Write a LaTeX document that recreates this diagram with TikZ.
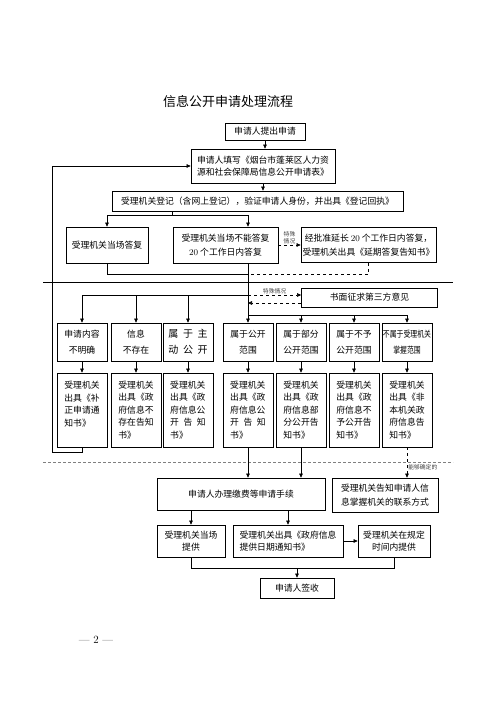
\documentclass[tikz,border=0pt]{standalone}
\usepackage{fontspec}
\newfontfamily\cjk{Noto Sans CJK SC}
\usetikzlibrary{arrows.meta,positioning}
\newcommand\gsp{\hspace{4.6pt}}
\newcommand\squeeze[1]{\scalebox{0.78}[1]{#1}}

\begin{document}
\begin{tikzpicture}[
  x=1pt, y=-1pt,
  font=\cjk\fontsize{8.8}{12}\selectfont,
  box/.style={draw, line width=0.75pt, inner sep=0pt, align=center},
  cat/.style={box, minimum width=50pt, minimum height=38pt, font=\cjk\fontsize{8.8}{16}\selectfont},
  issue/.style={box, minimum width=50pt, minimum height=74pt, align=left, font=\cjk\fontsize{8.8}{12.5}\selectfont},
  note/.style={font=\cjk\fontsize{5.8}{6.8}\selectfont, text=black!75, inner sep=1pt, align=center},
  line/.style={line width=0.6pt},
  arr/.style={-{Triangle[length=4pt,width=3.6pt]}, line width=0.6pt},
  dashedarr/.style={arr, dashed}
]
  \useasboundingbox (0,0) rectangle (500,707);

  \node[font=\cjk\fontsize{13}{15}\selectfont] at (228,102) (title) {信息公开申请处理流程};

  % application and registration
  \node[box, minimum width=80pt, minimum height=17pt] at (265,131.5) (apply) {申请人提出申请};
  \node[box, minimum width=144pt, minimum height=34pt] at (263,166) (fill) {申请人填写《烟台市蓬莱区人力资\\源和社会保障局信息公开申请表》};
  \node[box, minimum width=291pt, minimum height=20pt] at (257.5,201) (reg) {受理机关登记（含网上登记），验证申请人身份，并出具《登记回执》};

  \node[box, minimum width=82pt, minimum height=36pt] at (107,245) (onsite) {受理机关当场答复};
  \node[box, minimum width=105pt, minimum height=36pt, font=\cjk\fontsize{8.8}{14}\selectfont] at (225.5,245) (notnow) {受理机关当场不能答复\\\textrm{20} 个工作日内答复};
  \node[box, minimum width=135pt, minimum height=35pt, font=\cjk\fontsize{8.8}{14}\selectfont] at (368.5,245) (extend) {经批准延长 \textrm{20} 个工作日内答复，\\受理机关出具《延期答复告知书》};

  \node[box, minimum width=136pt, minimum height=19pt] at (369.5,297.5) (third) {书面征求第三方意见};

  % categories
  \node[cat] at (82,342) (cat1) {申请内容\\不明确};
  \node[cat] at (136,342) (cat2) {信息\\不存在};
  \node[cat, font=\cjk\fontsize{10}{16}\selectfont] at (188,342) (cat3) {属\gsp 于\gsp 主\\动\gsp 公\gsp 开};
  \node[cat] at (248,342) (cat4) {属于公开\\范围};
  \node[cat] at (301,342) (cat5) {属于部分\\公开范围};
  \node[cat] at (354,342) (cat6) {属于不予\\公开范围};
  \node[cat] at (407,342) (cat7) {\squeeze{不属于受理机关}\\\squeeze{掌握范围}};

  % notices
  \node[issue] at (82,410) (issue1) {受理机关\\出具《补\\正申请通\\知书》\\~};
  \node[issue] at (136,410) (issue2) {受理机关\\出具《政\\府信息不\\存在告知\\书》};
  \node[issue] at (188,410) (issue3) {受理机关\\出具《政\\府信息公\\开\gsp 告\gsp 知\\书》};
  \node[issue] at (248,410) (issue4) {受理机关\\出具《政\\府信息公\\开\gsp 告\gsp 知\\书》};
  \node[issue] at (301,410) (issue5) {受理机关\\出具《政\\府信息部\\分公开告\\知书》};
  \node[issue] at (354,410) (issue6) {受理机关\\出具《政\\府信息不\\予公开告\\知书》};
  \node[issue] at (407,410) (issue7) {受理机关\\出具《非\\本机关政\\府信息告\\知书》};

  % providing
  \node[box, minimum width=168pt, minimum height=32pt] at (241,494) (fee) {申请人办理缴费等申请手续};
  \node[box, minimum width=106pt, minimum height=34pt, font=\cjk\fontsize{8.8}{14}\selectfont] at (385,495) (inform) {受理机关告知申请人信\\息掌握机关的联系方式};
  \node[box, minimum width=68pt, minimum height=32pt] at (191,541) (now) {受理机关当场\\提供};
  \node[box, minimum width=110pt, minimum height=32pt, align=left] at (288,541) (notice) {受理机关出具《政府信息\\提供日期通知书》};
  \node[box, minimum width=72pt, minimum height=32pt] at (394,541) (later) {受理机关在规定\\时间内提供};
  \node[box, minimum width=74pt, minimum height=20pt] at (297,588) (sign) {申请人签收};

  \node[font=\rmfamily\fontsize{11}{13}\selectfont] at (96,640) (page) {— 2 —};

  \coordinate (split) at (172,215);
  \coordinate (spine) at (248,215);
  \coordinate (merge) at (248,274);
  \coordinate (lbranch) at (248,295);
  \coordinate (tback) at (248,303);
  \coordinate (rbranch) at (248,315);
  \coordinate (loop) at (52,452);
  \coordinate (join) at (297,568);

  \draw[arr] (apply.south) -- (apply.south |- fill.north);
  \draw[arr] (fill.south) -- (fill.south |- reg.north);
  \draw[line] (reg.south -| split) -- (split);
  \draw[arr] (split) -| (onsite.north);
  \draw[arr] (split) -- (spine) -- (spine |- notnow.north);
  \draw[dashedarr] (notnow.east) -- node[note, above] {特殊\\情况} (notnow.east -| extend.west);
  \draw[line] (onsite.south) |- (merge);
  \draw[line, dashed] (extend.south) |- (merge);
  \draw[arr] (notnow.south -| spine) -- (cat4.north);

  % separators
  \draw[line] (43,282) -- (453,282);
  \draw[gray, densely dashed, line width=0.8pt] (43,462) -- (453,462);

  \draw[arr] (lbranch) -| (cat1.north);
  \draw[arr] (lbranch -| cat2.north) -- (cat2.north);
  \draw[arr] (lbranch -| cat3.north) -- (cat3.north);
  \draw[dashedarr] (lbranch) -- node[note, above] {特殊情况} (lbranch -| third.west);
  \draw[dashedarr] (tback -| third.west) -- (tback);
  \draw[line] (rbranch) -- (rbranch -| cat7.north);
  \foreach \i in {5,6,7}
    \draw[arr] (rbranch -| cat\i.north) -- (cat\i.north);
  \foreach \i in {1,...,7}
    \draw[arr] (cat\i) -- (issue\i);

  \draw[arr] (issue1.south) |- (loop) |- (fill.west);
  \draw[arr] (issue4.south) -- (issue4.south |- fee.north);
  \draw[arr] (issue5.south) -- (issue5.south |- fee.north);
  \draw[dashedarr] (issue7.south) -- node[note, right, pos=0.65] {能够确定的} (issue7.south |- inform.north);

  \draw[arr] (fee.south -| now.north) -- (now.north);
  \draw[arr] (fee.south -| notice.north) -- (notice.north);
  \draw[arr] (notice.east) -- (later.west);
  \draw[line] (now.south) |- (join);
  \draw[line] (later.south) |- (join);
  \draw[arr] (join) -- (sign.north);
\end{tikzpicture}
\end{document}
